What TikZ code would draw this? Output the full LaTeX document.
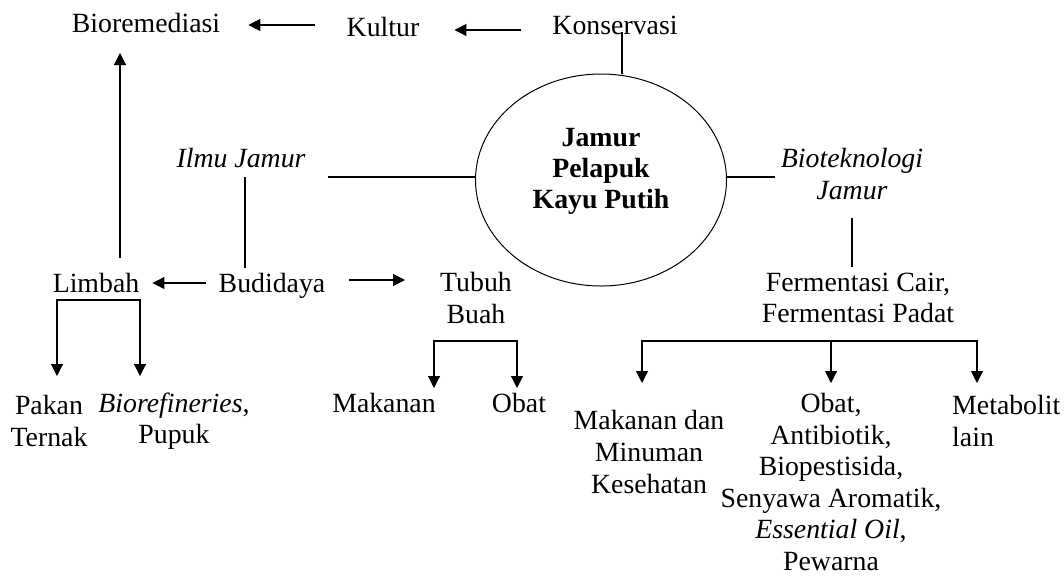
\documentclass[tikz,border=0pt]{standalone}
\usepackage{fontspec}
\setmainfont{Liberation Serif}
\usetikzlibrary{arrows.meta,shapes.geometric}
\tikzset{
  lbl/.style={inner sep=0pt, align=center, font=\fontsize{27.8pt}{31.6pt}\selectfont},
  itl/.style={lbl, font=\fontsize{27.8pt}{31.6pt}\selectfont\itshape},
  ln/.style={line width=1.1pt},
  arr/.style={line width=1.1pt, -{Triangle[length=12pt,width=12pt]}},
  ellbox/.style={ellipse, draw, line width=1pt, minimum width=251pt, minimum height=212pt, inner sep=0pt}
}
\begin{document}
\begin{tikzpicture}[x=1pt,y=-1pt]
\useasboundingbox (0,0) rectangle (1064,576);
% nodes
\node[lbl] (biorem) at (146,23) {Bioremediasi};
\node[lbl] (kultur) at (383,27) {Kultur};
\node[lbl] (konserv) at (615,25) {Konservasi};
\node[itl] (ilmu) at (241,158) {Ilmu Jamur};
\node[ellbox] (ell) at (601,180) {};
\node[lbl, font=\fontsize{27.8pt}{31pt}\selectfont\bfseries] (jamur) at (601,171) {Jamur\\Pelapuk\\Kayu Putih};
\node[itl] (biotek) at (852,174) {Bioteknologi\\Jamur};
\node[lbl] (ferm) at (858,298) {Fermentasi Cair,\\Fermentasi Padat};
\node[lbl] (limbah) at (96,283) {Limbah};
\node[lbl] (budidaya) at (272,286) {Budidaya};
\node[lbl] (tubuh) at (476,298) {Tubuh\\Buah};
\node[lbl] (pakan) at (49,421) {Pakan\\Ternak};
\node[lbl] (bioref) at (174,421) {\textit{Biorefineries},\\Pupuk};
\node[lbl] (makanan) at (384,403) {Makanan};
\node[lbl] (obat) at (519,403) {Obat};
\node[lbl] (makdan) at (649,452) {Makanan dan\\Minuman\\Kesehatan};
\node[lbl] (obat2) at (831,482) {Obat,\\Antibiotik,\\Biopestisida,\\Senyawa Aromatik,\\\textit{Essential Oil},\\Pewarna};
\node[lbl, anchor=west, align=left] (metab) at (952,421) {Metabolit\\lain};
% coordinates
\coordinate (ilmuline) at ([xshift=87pt,yshift=-19pt]ilmu.center);
\coordinate (bioline) at ([xshift=-77pt,yshift=-3pt]biotek.center);
\coordinate (lb) at ([yshift=-17pt]limbah.center);
\coordinate (tb) at ([yshift=-43pt]tubuh.center);
\coordinate (fb) at ([xshift=-27pt,yshift=-43pt]ferm.center);
% top row
\draw[arr] ([xshift=-31pt,yshift=-5pt]konserv.west) -- ([xshift=35pt,yshift=-3pt]kultur.east);
\draw[arr] ([xshift=-32pt,yshift=2pt]kultur.west) -- ([xshift=28pt,yshift=-2pt]biorem.east);
\draw[ln] ([xshift=7pt,yshift=-7pt]konserv.center) -- ([xshift=7pt]konserv.center |- ell.north);
% left
\draw[arr] ([xshift=24pt,yshift=25pt]limbah.center) -- ([xshift=-26pt,yshift=-30pt]biorem.center);
\draw[ln] (ilmuline) -- (ilmuline -| ell.west);
\draw[ln] ([xshift=4pt,yshift=-19pt]ilmu.center) -- ([xshift=-27pt,yshift=18pt]budidaya.center);
\draw[arr] ([xshift=-13pt,yshift=3pt]budidaya.west) -- ([xshift=13pt]limbah.east);
\draw[arr] ([xshift=24pt,yshift=6pt]budidaya.east) -- ([xshift=-71pt,yshift=18pt]tubuh.center);
\draw[arr] (lb) -| ([xshift=8pt,yshift=45pt]pakan.center);
\draw[arr] (lb) -| ([xshift=-34pt,yshift=45pt]bioref.center);
\draw[arr] (tb) -| ([xshift=50pt,yshift=15pt]makanan.center);
\draw[arr] (tb) -| ([xshift=-2pt,yshift=15pt]obat.center);
% right
\draw[ln] (ell.east |- bioline) -- (bioline);
\draw[ln] ([yshift=-44pt]biotek.center) -- ([xshift=-6pt,yshift=31pt]ferm.center);
\draw[arr] (fb) -| ([xshift=-7pt,yshift=69pt]makdan.center);
\draw[arr] (fb) -- ([yshift=99pt]obat2.center);
\draw[arr] (fb) -| ([xshift=25pt,yshift=38pt]metab.west);
\end{tikzpicture}
\end{document}
